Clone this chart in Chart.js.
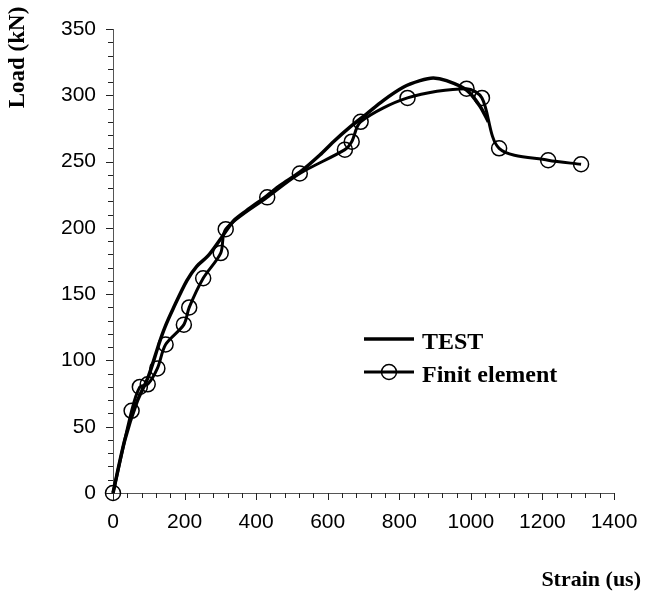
<!DOCTYPE html>
<html>
<head>
<meta charset="utf-8">
<script src="https://cdn.jsdelivr.net/npm/chart.js@4"></script>
<style>
  html, body { margin: 0; padding: 0; background: #fff; }
  canvas { display: block; }
</style>
</head>
<body>
<canvas id="chart" width="645" height="598"></canvas>
<script>
// Measured load-strain response
const testStrain = [0, 33, 66, 99, 129, 145, 168, 206, 234, 266, 299, 336, 373, 429, 467, 522, 578, 616, 662, 709, 755, 811, 858, 895, 932, 988, 1025, 1049];
const testLoad   = [0, 40, 68, 88, 113, 125, 139, 160, 171, 179, 191, 205, 213, 224, 232, 242, 255, 265, 276, 286, 296, 306, 311, 313, 311, 304, 292, 280];

// Finite element prediction
const feStrain = [0, 52, 75, 97, 124, 147, 198, 213, 252, 301, 315, 431, 522, 648, 667, 692, 823, 988, 1031, 1079, 1216, 1308];
const feLoad   = [0, 62, 80, 82, 94, 112, 127, 140, 162, 181, 199, 223, 241, 259, 265, 280, 298, 305, 298, 260, 251, 248];

// Axis ticks
const strainTicks = [0, 200, 400, 600, 800, 1000, 1200, 1400];
const loadTicks   = [0, 50, 100, 150, 200, 250, 300, 350];
const strainMinorStep = 40;
const loadMinorStep = 10;

const seriesNames = ['TEST', 'Finit element'];
const xTitle = 'Strain (us)';
const yTitle = 'Load (kN)';

const toPoints = (xs, ys) => xs.map((x, i) => ({ x, y: ys[i] }));

// Tick marks (major + minor), axis titles and the inset legend
const decor = {
  id: 'decor',
  afterDraw(chart) {
    const { ctx, scales: { x, y } } = chart;
    const left = x.left, bottom = y.bottom;
    ctx.save();
    ctx.strokeStyle = '#222';
    ctx.lineWidth = 1;

    const yMin = loadTicks[0], yMax = loadTicks[loadTicks.length - 1];
    for (let v = yMin; v <= yMax; v += loadMinorStep) {
      const py = Math.round(y.getPixelForValue(v)) + 0.5;
      const len = loadTicks.includes(v) ? 7 : 5;
      ctx.beginPath();
      ctx.moveTo(left - len, py);
      ctx.lineTo(left, py);
      ctx.stroke();
    }
    const xMin = strainTicks[0], xMax = strainTicks[strainTicks.length - 1];
    for (let v = xMin; v <= xMax; v += strainMinorStep) {
      const px = Math.round(x.getPixelForValue(v)) + 0.5;
      const len = strainTicks.includes(v) ? 7 : 5;
      ctx.beginPath();
      ctx.moveTo(px, bottom);
      ctx.lineTo(px, bottom + len);
      ctx.stroke();
    }

    // axis titles
    ctx.fillStyle = '#000';
    ctx.font = 'bold 23px "Liberation Serif", "Times New Roman", serif';
    ctx.textBaseline = 'alphabetic';
    ctx.save();
    ctx.translate(24, 57.5);
    ctx.rotate(-Math.PI / 2);
    ctx.textAlign = 'center';
    ctx.fillText(yTitle, 0, 0);
    ctx.restore();
    ctx.font = 'bold 22px "Liberation Serif", "Times New Roman", serif';
    ctx.textAlign = 'right';
    ctx.fillText(xTitle, 641, 586);

    // legend
    const ds = chart.data.datasets;
    ctx.font = 'bold 24px "Liberation Serif", "Times New Roman", serif';
    ctx.textAlign = 'left';
    const rows = [339, 372];
    ds.forEach((d, i) => {
      const ly = rows[i];
      ctx.strokeStyle = d.borderColor;
      ctx.lineWidth = d.borderWidth;
      ctx.beginPath();
      ctx.moveTo(364, ly);
      ctx.lineTo(414, ly);
      ctx.stroke();
      if (d.pointRadius > 0) {
        ctx.lineWidth = d.pointBorderWidth;
        ctx.beginPath();
        ctx.arc(389, ly, d.pointRadius, 0, Math.PI * 2);
        ctx.stroke();
      }
      ctx.fillStyle = '#000';
      ctx.fillText(d.label, 422, ly + 10);
    });
    ctx.restore();
  }
};

const plainNumber = v => String(v);

new Chart(document.getElementById('chart'), {
  type: 'line',
  data: {
    datasets: [
      {
        label: seriesNames[0],
        data: toPoints(testStrain, testLoad),
        borderColor: '#000',
        borderWidth: 3.5,
        pointRadius: 0,
        tension: 0.3,
        clip: false
      },
      {
        label: seriesNames[1],
        data: toPoints(feStrain, feLoad),
        borderColor: '#000',
        borderWidth: 3,
        pointRadius: 7.5,
        pointBorderWidth: 1.5,
        pointBorderColor: '#000',
        pointBackgroundColor: 'rgba(0,0,0,0)',
        tension: 0.3,
        clip: false
      }
    ]
  },
  options: {
    responsive: false,
    animation: false,
    events: [],
    layout: { padding: { left: 0, right: 31, top: 29, bottom: 0 } },
    plugins: { legend: { display: false }, tooltip: { enabled: false } },
    scales: {
      x: {
        type: 'linear',
        min: strainTicks[0],
        max: strainTicks[strainTicks.length - 1],
        afterBuildTicks: s => { s.ticks = strainTicks.map(v => ({ value: v })); },
        afterFit: s => { s.height = 105; s.paddingLeft = 0; s.paddingRight = 0; },
        grid: { display: false, drawTicks: false },
        border: { display: true, color: '#555', width: 1 },
        ticks: {
          padding: 17,
          color: '#000',
          maxRotation: 0,
          autoSkip: false,
          callback: plainNumber,
          font: { family: '"Liberation Sans", Arial, sans-serif', size: 21 }
        }
      },
      y: {
        type: 'linear',
        min: loadTicks[0],
        max: loadTicks[loadTicks.length - 1],
        afterBuildTicks: s => { s.ticks = loadTicks.map(v => ({ value: v })); },
        afterFit: s => { s.width = 113; s.paddingTop = 0; s.paddingBottom = 0; },
        grid: { display: false, drawTicks: false },
        border: { display: true, color: '#555', width: 1 },
        ticks: {
          padding: 17,
          color: '#000',
          autoSkip: false,
          callback: plainNumber,
          font: { family: '"Liberation Sans", Arial, sans-serif', size: 21 }
        }
      }
    }
  },
  plugins: [decor]
});
</script>
</body>
</html>
